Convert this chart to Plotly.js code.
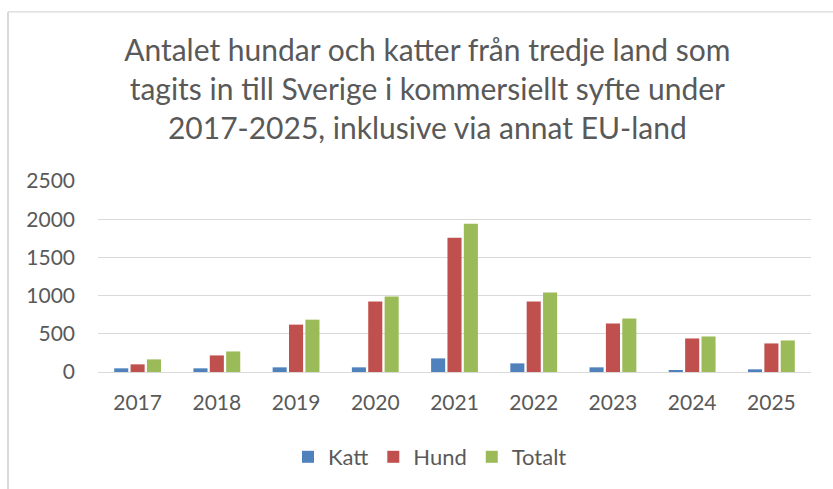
<!DOCTYPE html>
<html>
<head>
<meta charset="utf-8">
<script src="https://cdn.plot.ly/plotly-3.0.1.min.js"></script>
<style>
  html, body { margin: 0; padding: 0; background: #ffffff; }
  #chart { width: 833px; height: 489px; }
</style>
</head>
<body>
<div id="chart"></div>
<script>
const years = ['2017', '2018', '2019', '2020', '2021', '2022', '2023', '2024', '2025'];
const katt = [48, 48, 61, 61, 178, 113, 61, 22, 35];
const hund = [100, 217, 620, 922, 1757, 922, 635, 439, 374];
const totalt = [165, 269, 685, 987, 1940, 1040, 700, 465, 413];
const seriesNames = ['Katt', 'Hund', 'Totalt'];
const yTicks = [0, 500, 1000, 1500, 2000, 2500];
const titleText = 'Antalet hundar och katter från tredje land som<br>tagits in till Sverige i kommersiellt syfte under<br>2017-2025, inklusive via annat EU-land';

const colors = ['#4F81BD', '#C0504D', '#9BBB59'];
const FONT = 'Lato, "Open Sans", sans-serif';
const textColor = '#595959';

const data = [katt, hund, totalt].map((vals, i) => ({
  type: 'bar',
  x: years,
  y: vals,
  name: seriesNames[i],
  marker: { color: colors[i] },
  hoverinfo: 'x+y+name'
}));

const layout = {
  width: 833,
  height: 489,
  margin: { l: 98, r: 22, t: 181, b: 116 },
  paper_bgcolor: '#ffffff',
  plot_bgcolor: '#ffffff',
  font: { family: FONT, color: textColor, size: 21 },
  title: {
    text: titleText,
    font: { family: FONT, size: 30, color: textColor },
    x: 0.513,
    xref: 'container',
    xanchor: 'center',
    y: 0.875,
    yref: 'container',
    yanchor: 'top'
  },
  barmode: 'group',
  bargap: 0.38,
  bargroupgap: 0.14,
  xaxis: {
    type: 'category',
    tickfont: { family: FONT, size: 21, color: textColor },
    showgrid: false,
    zeroline: false,
    showline: false,
    ticks: '',
    ticklabelstandoff: 16
  },
  yaxis: {
    range: [0, 2500],
    tickvals: yTicks,
    ticktext: yTicks.map(String),
    tickfont: { family: FONT, size: 21, color: textColor },
    showgrid: true,
    gridcolor: '#d9d9d9',
    gridwidth: 1.3,
    zeroline: true,
    zerolinecolor: '#d9d9d9',
    zerolinewidth: 1.3,
    showline: false,
    ticks: '',
    ticklabelstandoff: 22
  },
  legend: {
    orientation: 'h',
    x: 0.4656,
    xanchor: 'center',
    y: -0.4375,
    yanchor: 'middle',
    font: { family: FONT, size: 22, color: textColor },
    itemclick: false,
    bgcolor: 'rgba(0,0,0,0)'
  },
  shapes: [
    { type: 'line', xref: 'paper', yref: 'paper', x0: (8 - 98) / 713, x1: (8 - 98) / 713, y0: (373 - 11) / 192, y1: (373 - 520) / 192, line: { color: '#d9d9d9', width: 2 } },
    { type: 'line', xref: 'paper', yref: 'paper', x0: (8 - 98) / 713, x1: (900 - 98) / 713, y0: (373 - 11) / 192, y1: (373 - 11) / 192, line: { color: '#d9d9d9', width: 1.3 } }
  ],
  showlegend: true
};

Plotly.newPlot('chart', data, layout, { displayModeBar: false, responsive: false });
</script>
</body>
</html>
